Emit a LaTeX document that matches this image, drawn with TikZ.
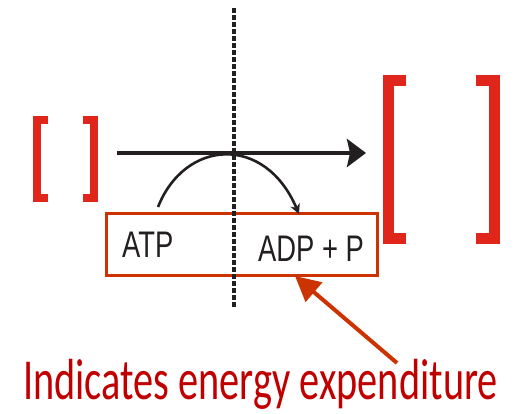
\documentclass[tikz,border=0pt]{standalone}
\usepackage{fontspec}
\usepackage{graphicx}
\setmainfont{Liberation Sans}
\newfontfamily\calib{Carlito}
\usetikzlibrary{arrows.meta}
\definecolor{brred}{HTML}{E0261A}
\definecolor{boxred}{HTML}{CC3300}
\definecolor{txtred}{HTML}{C00000}
\definecolor{ink}{HTML}{231F20}
\tikzset{
  bracketline/.style={brred, line join=miter, line cap=butt},
  boxstyle/.style={draw=boxred, line width=3pt, minimum width=271pt, minimum height=62pt, inner sep=0pt},
  labeltext/.style={ink, inner sep=0pt, font=\fontsize{37}{40}\selectfont},
}
\begin{document}
\begin{tikzpicture}[x=1pt,y=-1pt]
\useasboundingbox (0,0) rectangle (514,413);
% box
\node[boxstyle] (box) at (241.5,244) {};
% small brackets
\draw[bracketline, line width=8pt] (48,120) -- (37,120) -- (37,198) -- (48,198);
\draw[bracketline, line width=8pt] (83,120) -- (94,120) -- (94,198) -- (83,198);
% big brackets
\draw[bracketline, line width=11pt] (406,80) -- (388,80) -- (388,238) -- (406,238);
\draw[bracketline, line width=11pt] (476,80) -- (494,80) -- (494,238) -- (476,238);
% dashed line
\coordinate (dtop) at (234,8);
\coordinate (dbot) at (234,307);
\draw[ink, line width=3.2pt, dash pattern=on 4.5pt off 2.5pt] (dtop) -- (dbot);
% horizontal arrow
\coordinate (hs) at (117,153);
\coordinate (he) at (366,153);
\draw[ink, line width=4pt, -{Stealth[length=19pt, width=28pt, inset=3pt]}] (hs) -- (he);
% curved arrow
\coordinate (cs) at (158,207);
\coordinate (ce) at (299,214);
\draw[ink, line width=2.6pt, -{Stealth[length=10pt, width=10pt]}] (cs) .. controls (185,139) and (265,134) .. (ce);
% labels
\node[labeltext, anchor=base west] (atp) at (122,257) {\scalebox{0.74}[1]{ATP}};
\node[labeltext, anchor=base west] (adp) at (258,261) {\scalebox{0.74}[1]{ADP + P}};
% red annotation
\node[txtred, inner sep=0pt, anchor=base, font=\calib\fontsize{58}{60}\selectfont] (note) at (260.5,399) {\scalebox{0.695}[1]{Indicates energy expenditure}};
\coordinate (rs) at (397,363);
\coordinate (rt) at (295,276);
\draw[boxred, line width=4pt, -{Triangle[length=25pt, width=25pt]}] (rs) -- (rt);
\end{tikzpicture}
\end{document}
